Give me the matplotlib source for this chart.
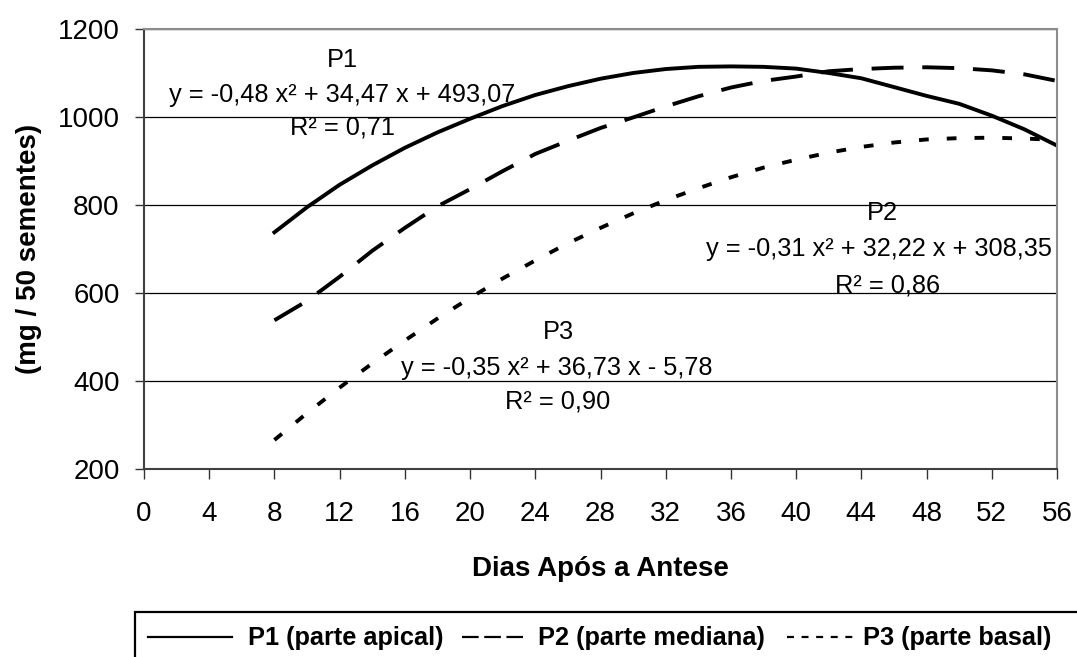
import matplotlib.pyplot as plt
from matplotlib.lines import Line2D
from matplotlib.patches import Rectangle

plt.rcParams['font.family'] = ['Liberation Sans', 'DejaVu Sans']
plt.rcParams['lines.scale_dashes'] = False

# values (every 2 days)
dias = [8, 10, 12, 14, 16, 18, 20, 22, 24, 26, 28, 30, 32,
        34, 36, 38, 40, 42, 44, 46, 48, 50, 52, 54, 56]
p1 = [738, 795, 846, 890, 930, 965, 996, 1025, 1050, 1070, 1087, 1100, 1109,
      1114, 1115, 1114, 1110, 1100, 1088, 1068, 1048, 1030, 1003, 972, 935]
p2 = [538, 582, 637, 696, 748, 797, 836, 877, 916, 946, 975, 999, 1024,
      1047, 1067, 1082, 1092, 1104, 1109, 1112, 1113, 1111, 1106, 1097, 1082]
p3 = [266, 327, 385, 440, 492, 542, 589, 633, 674, 713, 748, 781, 811,
      838, 863, 885, 903, 919, 932, 942, 949, 952, 953, 951, 948]

legend_labels = ['P1 (parte apical)', 'P2 (parte mediana)', 'P3 (parte basal)']

W, H = 1077, 657
fig = plt.figure(figsize=(W / 100, H / 100), dpi=100)
ax = fig.add_axes([144 / W, 1 - 469 / H, (1057 - 144) / W, (469 - 29) / H])

lw = 2.8
ax.plot(dias, p1, color='black', lw=lw, solid_joinstyle='round')
ax.plot(dias, p2, color='black', lw=lw, dashes=(23, 13.5), dash_capstyle='butt')
ax.plot(dias, p3, color='black', lw=lw, dashes=(7, 13), dash_capstyle='butt')

ax.set_xlim(0, 56)
ax.set_ylim(200, 1200)
ax.set_xticks(range(0, 57, 4))
ax.set_yticks(range(200, 1201, 200))
ax.tick_params(labelsize=20, width=1, color='#333333')
ax.tick_params(axis='x', length=7, pad=16)
ax.tick_params(axis='y', length=6.5, pad=11)
ax.set_axisbelow(True)
ax.yaxis.grid(True, color='black', lw=0.9)

for s in ['left', 'bottom']:
    ax.spines[s].set_color('#404040')
    ax.spines[s].set_linewidth(1.5)
for s in ['top', 'right']:
    ax.spines[s].set_color('#8c8c8c')
    ax.spines[s].set_linewidth(1.5)

ax.set_xlabel('Dias Após a Antese', fontsize=20, fontweight='bold', labelpad=21)
ax.set_ylabel('(mg / 50 sementes)', fontsize=20, fontweight='bold', labelpad=11)

# equation labels
fs = 18.3
ax.text(12.15, 1130, 'P1', fontsize=fs, ha='center', va='center')
ax.text(12.15, 1051, 'y = -0,48 x² + 34,47 x + 493,07', fontsize=fs, ha='center', va='center')
ax.text(12.15, 975, 'R² = 0,71', fontsize=fs, ha='center', va='center')

ax.text(45.3, 782, 'P2', fontsize=fs, ha='center', va='center')
ax.text(45.1, 701, 'y = -0,31 x² + 32,22 x + 308,35', fontsize=fs, ha='center', va='center')
ax.text(45.6, 618, 'R² = 0,86', fontsize=fs, ha='center', va='center')

ax.text(25.4, 512, 'P3', fontsize=fs, ha='center', va='center')
ax.text(25.3, 430, 'y = -0,35 x² + 36,73 x - 5,78', fontsize=fs, ha='center', va='center')
ax.text(25.4, 353, 'R² = 0,90', fontsize=fs, ha='center', va='center')

# legend box, cut off by the figure edge like in the original
fx = lambda px: px / W
fy = lambda py: 1 - py / H
fig.add_artist(Rectangle((fx(135), fy(700)), fx(1120) - fx(135), fy(612) - fy(700),
                         transform=fig.transFigure, fill=False, lw=1.6,
                         edgecolor='black', clip_on=False))
entries = [
    (148, 232, 248, dict(ls='-')),
    (462, 523, 538, dict(dashes=(12, 4))),
    (787, 857, 863, dict(dashes=(5, 5.5))),
]
for (x0, x1, xt, style), label in zip(entries, legend_labels):
    fig.add_artist(Line2D([fx(x0), fx(x1)], [fy(637), fy(637)], transform=fig.transFigure,
                          color='black', lw=1.6, dash_capstyle='butt', **style))
    fig.text(fx(xt), fy(638), label, fontsize=18.3, fontweight='bold', va='center', ha='left')

plt.savefig('out.png', dpi=100)
